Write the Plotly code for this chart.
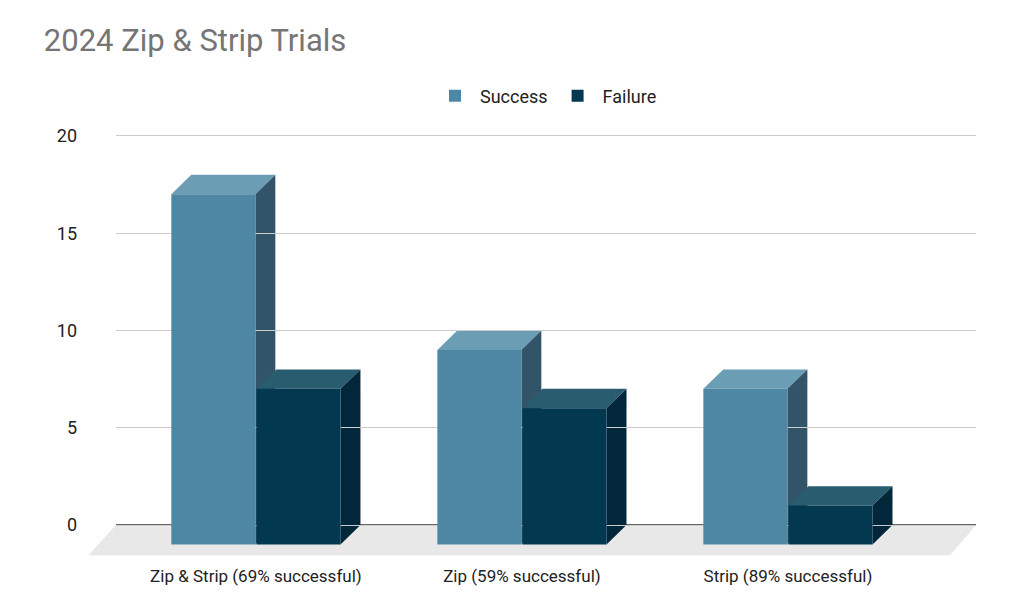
import plotly.graph_objects as go

categories = ["Zip & Strip (69% successful)", "Zip (59% successful)", "Strip (89% successful)"]
success = [17, 9, 7]
failure = [7, 6, 1]

series = [("Success", success, "#4e87a3", "#6b9db5", "#325468", -0.16),
          ("Failure", failure, "#033851", "#2a5c70", "#02263a", 0.16)]
W = 0.316      # bar width (x units)
DX = 0.075     # depth offset in x
DY = 1.0       # depth offset in y
BASE = -1.0    # front bottom
XR = [-0.526, 2.707]
YR = [-2.0, 20.2]

def px(x):
    return (x - XR[0]) / (XR[1] - XR[0])

def py(y):
    return (y - YR[0]) / (YR[1] - YR[0])

fig = go.Figure()
shapes = []
# floor (paper coords so it can extend beyond the plot area)
shapes.append(dict(type="path", xref="paper", yref="paper", layer="below",
                   path=f"M {px(-0.63)} {py(-1.55)} L {px(2.61)} {py(-1.55)} L {px(2.707)} {py(0)} L {px(-0.526)} {py(0)} Z",
                   fillcolor="#e8e8e8", line=dict(width=0)))
shapes.append(dict(type="line", xref="x", yref="y", layer="below",
                   x0=XR[0], x1=XR[1], y0=0, y1=0, line=dict(color="#333", width=1.5)))

for name, vals, front, top, side, off in series:
    xs = [i + off for i in range(len(vals))]
    fig.add_trace(go.Bar(x=xs, y=[v - BASE for v in vals], base=BASE, width=W, name=name,
                         marker=dict(color=front, line=dict(width=0)), hoverinfo="skip"))
    for x, v in zip(xs, vals):
        l, r = x - W / 2, x + W / 2
        shapes.append(dict(type="path", xref="x", yref="y", layer="below",
                           path=f"M {l} {v} L {r} {v} L {r+DX} {v+DY} L {l+DX} {v+DY} Z",
                           fillcolor=top, line=dict(width=0)))
        shapes.append(dict(type="path", xref="x", yref="y", layer="below",
                           path=f"M {r} {BASE} L {r} {v} L {r+DX} {v+DY} L {r+DX} {BASE+DY} Z",
                           fillcolor=side, line=dict(width=0)))

fig.update_layout(
    width=1024, height=609, paper_bgcolor="white", plot_bgcolor="white",
    margin=dict(l=108, r=56, t=124, b=53),
    title=dict(text="2024 Zip & Strip Trials", x=0.035, xanchor="left", y=0.965, yanchor="top",
               font=dict(family="Roboto, Arial", size=31, color="#757575")),
    legend=dict(orientation="h", x=0.5, xanchor="center", y=1.083, yanchor="middle",
                font=dict(family="Roboto, Arial", size=18, color="#222"), itemwidth=40),
    showlegend=True, barmode="overlay", shapes=shapes,
    xaxis=dict(range=XR, tickvals=[0, 1, 2], ticktext=categories, automargin=False,
               showgrid=False, zeroline=False, showline=False, ticks="",
               tickfont=dict(family="Roboto, Arial", size=17, color="#222")),
    yaxis=dict(range=YR, tickvals=[0, 5, 10, 15, 20], showgrid=True, automargin=False,
               gridcolor="#cccccc", zeroline=False, showline=False, ticks="",
               ticklabelstandoff=38,
               tickfont=dict(family="Roboto, Arial", size=18, color="#222")),
)
fig.write_html("out.html")
